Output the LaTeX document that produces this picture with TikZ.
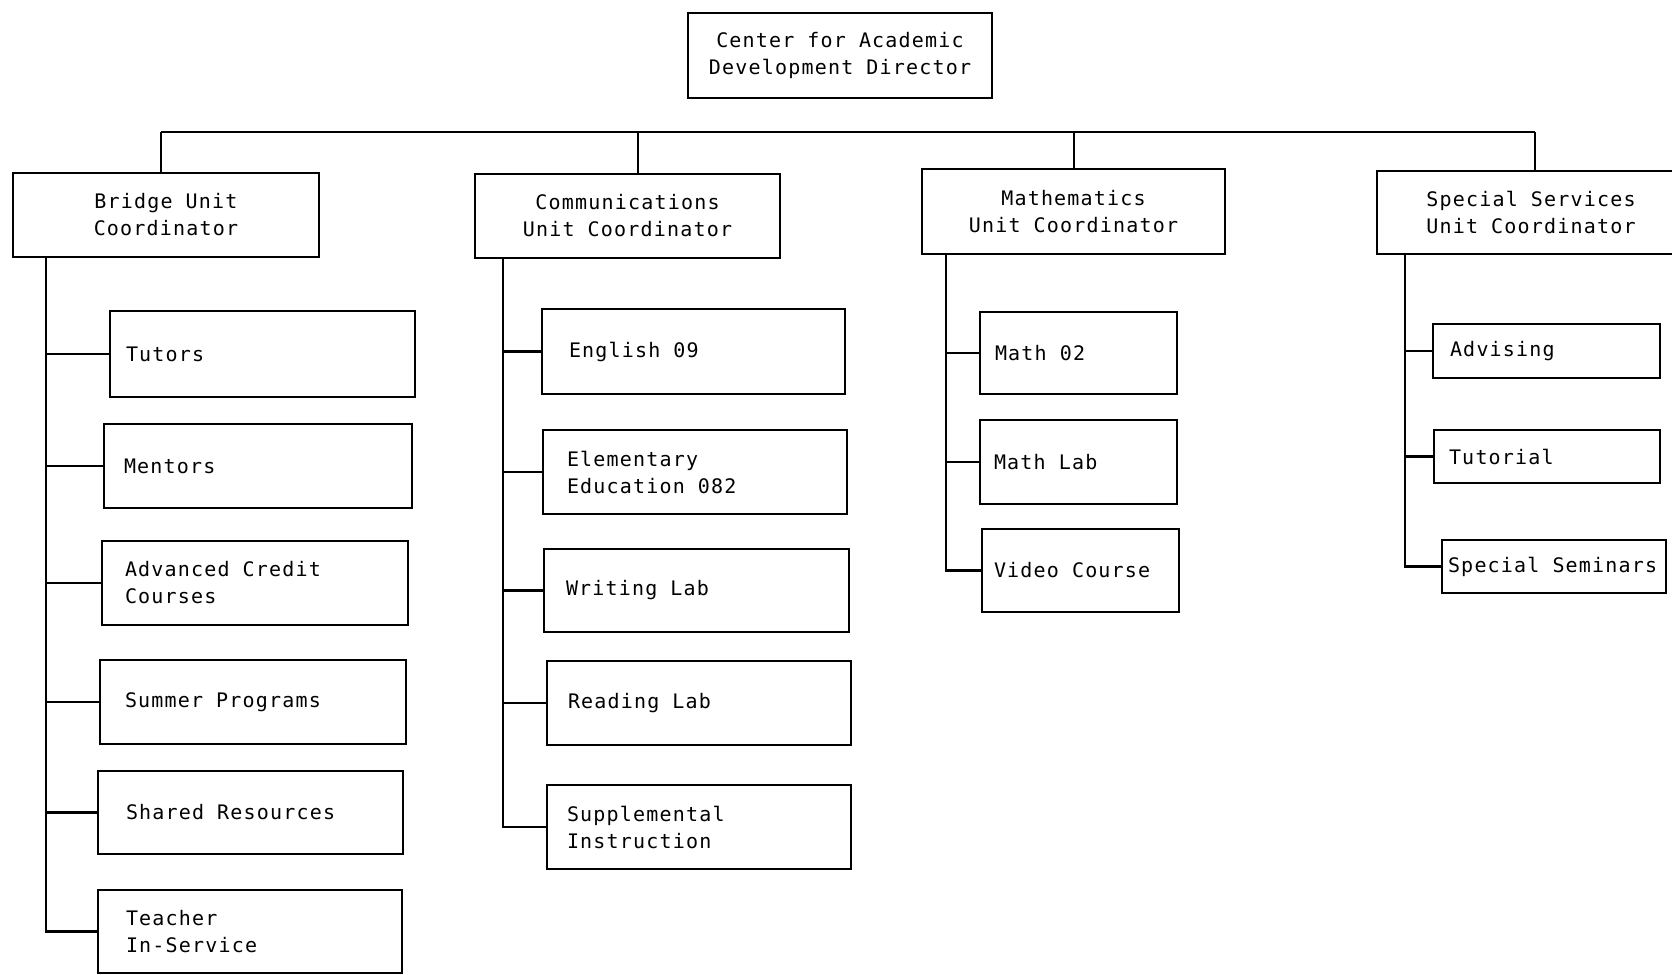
\documentclass[tikz,border=0pt]{standalone}
\usepackage{fontspec}
\newfontfamily\orgfont[LetterSpace=6]{DejaVu Sans Mono}
% typewriter-like text with a fixed pitch
\newcommand\orgtext{\orgfont\fontsize{20}{27}\selectfont}
\begin{document}
\begin{tikzpicture}[x=1pt,y=-1pt,
  box/.style={draw, line width=2.2pt, anchor=north west, outer sep=0pt, inner ysep=0pt,
              font=\orgtext,
              execute at begin node={\spaceskip=13pt\relax\xspaceskip=13pt\relax}},
  unitbox/.style={box, align=center},
  childbox/.style={box, align=left},
  conn/.style={line width=2.2pt}]
% box given by its corners (left, top, right, bottom) and a text inset
\newcommand\orgbox[8]{%
  \pgfmathsetmacro\bxw{#5-#3}%
  \pgfmathsetmacro\bxh{#6-#4}%
  \pgfmathsetmacro\bxt{#5-#3-2*#7}%
  \node[#1, minimum width=\bxw pt, minimum height=\bxh pt, text width=\bxt pt, inner xsep=#7pt] (#2) at (#3,#4) {#8};}
\useasboundingbox[fill=white] (0,0) rectangle (1672,974);

% director and unit coordinators
\orgbox{unitbox}{director}{688}{13}{992}{98}{4}{Center for Academic\\Development Director}
\orgbox{unitbox}{bridge}{13}{173}{319}{257}{8}{Bridge Unit\\Coordinator}
\orgbox{unitbox}{comm}{475}{174}{780}{258}{8}{Communications\\Unit Coordinator}
\orgbox{unitbox}{math}{922}{169}{1225}{254}{8}{Mathematics\\Unit Coordinator}
\orgbox{unitbox}{special}{1377}{171}{1685}{254}{8}{Special Services\\Unit Coordinator}

% bridge unit programs
\orgbox{childbox}{tutors}{110}{311}{415}{397}{16}{Tutors}
\orgbox{childbox}{mentors}{104}{424}{412}{508}{20}{Mentors}
\orgbox{childbox}{advanced}{102}{541}{408}{625}{23}{Advanced Credit\\Courses}
\orgbox{childbox}{summer}{100}{660}{406}{744}{25}{Summer Programs}
\orgbox{childbox}{shared}{98}{771}{403}{854}{28}{Shared Resources}
\orgbox{childbox}{teacher}{98}{890}{402}{973}{28}{Teacher\\In-Service}

% communications unit programs
\orgbox{childbox}{english}{542}{309}{845}{394}{27}{English 09}
\orgbox{childbox}{elementary}{543}{430}{847}{514}{24}{Elementary\\Education 082}
\orgbox{childbox}{writing}{544}{549}{849}{632}{22}{Writing Lab}
\orgbox{childbox}{reading}{547}{661}{851}{745}{21}{Reading Lab}
\orgbox{childbox}{supplemental}{547}{785}{851}{869}{20}{Supplemental\\Instruction}

% mathematics unit programs
\orgbox{childbox}{mathtwo}{980}{312}{1177}{394}{15}{Math 02}
\orgbox{childbox}{mathlab}{980}{420}{1177}{504}{14}{Math Lab}
\orgbox{childbox}{video}{982}{529}{1179}{612}{12}{Video Course}

% special services programs
\orgbox{childbox}{advising}{1433}{324}{1660}{378}{17}{Advising}
\orgbox{childbox}{tutorial}{1434}{430}{1660}{483}{15}{Tutorial}
\orgbox{childbox}{seminars}{1442}{540}{1666}{593}{6}{Special~Seminars}

% bus across the units
\coordinate (b1) at (161,132);
\coordinate (b2) at (638,132);
\coordinate (b3) at (1074,132);
\coordinate (b4) at (1535,132);
\draw[conn] (b1) -- (b4);
\draw[conn] (b1) -- (b1 |- bridge.north);
\draw[conn] (b2) -- (b2 |- comm.north);
\draw[conn] (b3) -- (b3 |- math.north);
\draw[conn] (b4) -- (b4 |- special.north);

% trunk lines down each unit
\coordinate (t1) at (46,0);
\coordinate (t2) at (503,0);
\coordinate (t3) at (946,0);
\coordinate (t4) at (1405,0);

\draw[conn] (bridge.south -| t1) |- (teacher.west);
\foreach \c in {tutors,mentors,advanced,summer,shared}
  \draw[conn] (t1 |- \c.west) -- (\c.west);

\draw[conn] (comm.south -| t2) |- (supplemental.west);
\foreach \c in {english,elementary,writing,reading}
  \draw[conn] (t2 |- \c.west) -- (\c.west);

\draw[conn] (math.south -| t3) |- (video.west);
\foreach \c in {mathtwo,mathlab}
  \draw[conn] (t3 |- \c.west) -- (\c.west);

\draw[conn] (special.south -| t4) |- (seminars.west);
\foreach \c in {advising,tutorial}
  \draw[conn] (t4 |- \c.west) -- (\c.west);
\end{tikzpicture}
\end{document}
